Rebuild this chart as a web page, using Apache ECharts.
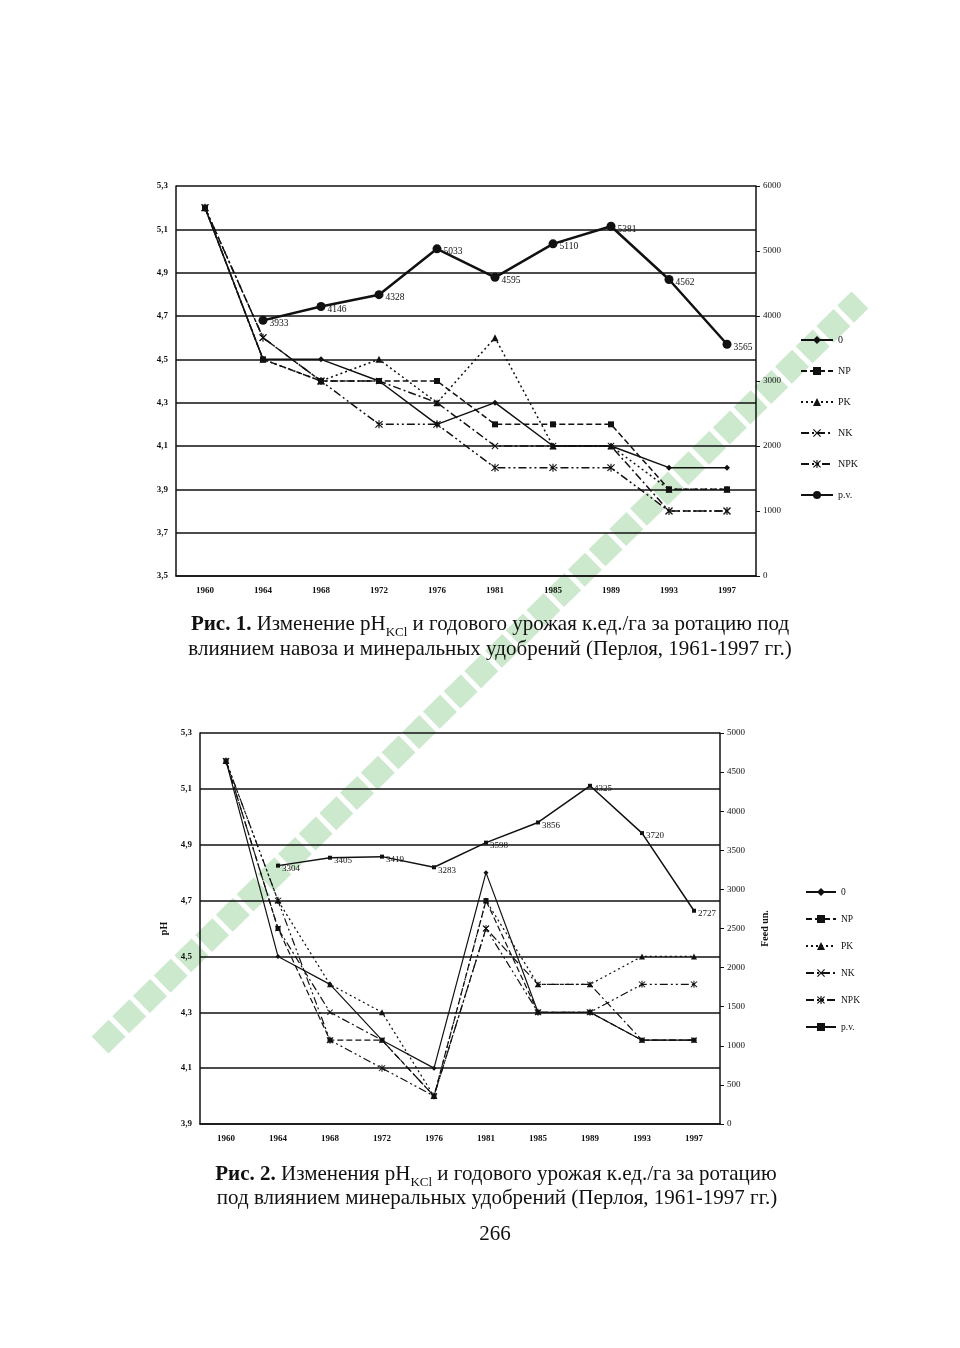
<!DOCTYPE html>
<html><head><meta charset="utf-8">
<script src="https://cdn.jsdelivr.net/npm/echarts@6/dist/echarts.min.js"></script>
<style>html,body{margin:0;padding:0;background:#fff}#c{width:960px;height:1348px}</style>
</head><body><div id="c"></div>
<script>
// ---- data ----
const years = ['1960','1964','1968','1972','1976','1981','1985','1989','1993','1997'];
const legendNames = ['0','NP','PK','NK','NPK','p.v.'];
// Figure 1 (pH KCl, yield feed units/ha)
const f1_0   = [5.2,4.5,4.5,4.4,4.2,4.3,4.1,4.1,4.0,4.0];
const f1_NP  = [5.2,4.5,4.4,4.4,4.4,4.2,4.2,4.2,3.9,3.9];
const f1_PK  = [5.2,4.5,4.4,4.5,4.3,4.6,4.1,4.1,3.9,3.9];
const f1_NK  = [5.2,4.6,4.4,4.4,4.3,4.1,4.1,4.1,3.8,3.8];
const f1_NPK = [5.2,4.6,4.4,4.2,4.2,4.0,4.0,4.0,3.8,3.8];
const f1_pv  = [null,3933,4146,4328,5033,4595,5110,5381,4562,3565];
// Figure 2
const f2_0   = [5.2,4.5,4.4,4.2,4.1,4.8,4.3,4.3,4.2,4.2];
const f2_NP  = [5.2,4.6,4.2,4.2,4.0,4.7,4.3,4.3,4.2,4.2];
const f2_PK  = [5.2,4.7,4.4,4.3,4.0,4.7,4.4,4.4,4.5,4.5];
const f2_NK  = [5.2,4.6,4.3,4.2,4.0,4.6,4.4,4.4,4.2,4.2];
const f2_NPK = [5.2,4.7,4.2,4.1,4.0,4.6,4.3,4.3,4.4,4.4];
const f2_pv  = [null,3304,3405,3419,3283,3598,3856,4325,3720,2727];
// axis ranges
const f1_phMin = 3.5, f1_phMax = 5.3, f1_yMax = 6000, f1_yStep = 1000;
const f2_phMin = 3.9, f2_phMax = 5.3, f2_yMax = 5000, f2_yStep = 500;

// ---- styles ----
const INK = '#111';
const SERIF = 'Liberation Serif';
const xSym = 'path://M1,0L5,4L9,0L10,1L6,5L10,9L9,10L5,6L1,10L0,9L4,5L0,1Z';
const astSym = 'path://M1,0L5,4L9,0L10,1L6,5L10,9L9,10L5,6L1,10L0,9L4,5L0,1Z M4.3,-0.5L5.7,-0.5L5.7,10.5L4.3,10.5Z';
const styles = {
  '0':   {type:'solid', sym:'diamond', size:6},
  'NP':  {type:[6,3], sym:'rect', size:6},
  'PK':  {type:[2,3], sym:'triangle', size:7},
  'NK':  {type:[8,3,2,3], sym:xSym, size:7},
  'NPK': {type:[8,3,2,3,2,3], sym:astSym, size:8},
  'p.v.':{type:'solid', sym:'circle', size:8}
};
function phSeries(name, data, gi, suffix, thin){
  const s = styles[name];
  return {name: name + suffix, type:'line', data: data, xAxisIndex: gi, yAxisIndex: gi*3,
    symbol: s.sym, symbolSize: thin ? s.size-1 : s.size, color: INK,
    lineStyle:{color:INK, width: thin?1.2:1.5, type: s.type}, itemStyle:{color:INK}, z:3};
}
function pvSeries(data, gi, suffix, thin){
  return {name:'p.v.'+suffix, type:'line', data:data, xAxisIndex:gi, yAxisIndex:gi*3+2,
    symbol: thin ? 'rect':'circle', symbolSize: thin?4:9, color:INK,
    lineStyle:{color:INK, width: thin?1.5:2.5}, itemStyle:{color:INK}, z:4,
    label:{show:true, position:'right', distance:2, offset:[0,3], fontSize: thin?9:9.5,
      fontFamily:SERIF, color:INK}};
}
function fmt(base){ return v => (base + v/10).toFixed(1).replace('.', ','); }

const grids = [
  {left:176, top:186, width:580, height:390},
  {left:200, top:733, width:520, height:391}
];
const xAxes = grids.map((g,i)=>({type:'category', gridIndex:i, data:years, boundaryGap:true,
  axisLine:{show:true, lineStyle:{color:INK, width:1.5}}, axisTick:{show:false},
  axisLabel:{fontFamily:SERIF, fontSize:9, fontWeight:'bold', color:INK, margin:10}}));
function yAxesFor(i, phMin, phMax, yMax, yStep, names){
  const steps = Math.round((phMax-phMin)*10);
  return [
    {type:'value', gridIndex:i, min:phMin, max:phMax, show:false},
    {type:'value', gridIndex:i, min:0, max:steps, interval:2, position:'left',
      name: names ? 'pH' : '', nameLocation:'middle', nameGap:22, nameRotate:90,
      nameTextStyle:{fontFamily:SERIF, fontSize:10, fontWeight:'bold', color:INK},
      axisLine:{show:true, lineStyle:{color:INK, width:1.5}}, axisTick:{show:false},
      axisLabel:{formatter: fmt(phMin), fontFamily:SERIF, fontSize:9, fontWeight:'bold', color:INK, margin:8},
      splitLine:{show:true, lineStyle:{color:INK, width:1.5}}},
    {type:'value', gridIndex:i, min:0, max:yMax, interval:yStep, position:'right',
      name: names ? 'Feed un.' : '', nameLocation:'middle', nameGap:40, nameRotate:90,
      nameTextStyle:{fontFamily:SERIF, fontSize:10, fontWeight:'bold', color:INK},
      axisLine:{show:true, lineStyle:{color:INK, width:1.5}},
      axisTick:{show:true, length:4, lineStyle:{color:INK}},
      axisLabel:{formatter: v => String(v), fontFamily:SERIF, fontSize:9, color:INK, margin:7},
      splitLine:{show:false}}
  ];
}
const yAxes = [].concat(
  yAxesFor(0, f1_phMin, f1_phMax, f1_yMax, f1_yStep, false),
  yAxesFor(1, f2_phMin, f2_phMax, f2_yMax, f2_yStep, true)
);
const S2 = '\u200b';
const series = [
  phSeries('0', f1_0, 0, '', false), phSeries('NP', f1_NP, 0, '', false),
  phSeries('PK', f1_PK, 0, '', false), phSeries('NK', f1_NK, 0, '', false),
  phSeries('NPK', f1_NPK, 0, '', false), pvSeries(f1_pv, 0, '', false),
  phSeries('0', f2_0, 1, S2, true), phSeries('NP', f2_NP, 1, S2, true),
  phSeries('PK', f2_PK, 1, S2, true), phSeries('NK', f2_NK, 1, S2, true),
  phSeries('NPK', f2_NPK, 1, S2, true), pvSeries(f2_pv, 1, S2, true)
];
const legends = [
  {orient:'vertical', left:795, top:330, itemGap:21, itemWidth:32, itemHeight:10,
   data: legendNames, selectedMode:false,
   textStyle:{fontFamily:SERIF, fontSize:10, color:INK}},
  {orient:'vertical', left:800, top:882, itemGap:17, itemWidth:30, itemHeight:10,
   data: legendNames.map(n=>n+S2), selectedMode:false,
   formatter: n => n.replace(S2,''),
   textStyle:{fontFamily:SERIF, fontSize:9.5, color:INK}}
];

const FS = 21;
const capRich = {
  n:{fontFamily:SERIF, fontSize:FS, color:INK, lineHeight:26, verticalAlign:'top'},
  b:{fontFamily:SERIF, fontSize:FS, fontWeight:'bold', color:INK, lineHeight:26, verticalAlign:'top'},
  s:{fontFamily:SERIF, fontSize:13, color:INK, lineHeight:26, verticalAlign:'bottom', padding:[0,0,1,0]}
};
function cap(x, y, text){
  return {type:'text', x:x, y:y, z:10, style:{text:text, rich:capRich, align:'center', textAlign:'center',
    verticalAlign:'middle', textVerticalAlign:'middle', fill:INK, font: FS+'px "Liberation Serif"'}};
}
const graphic = [
  {type:'line', z:-10, shape:{x1:100, y1:1045, x2:860, y2:300},
   style:{stroke:'#cde9cd', lineWidth:24, lineDash:[24,5]}},
  cap(490, 627, '{b|Рис. 1.}{n| Изменение pH}{s|KCl}{n| и годового урожая к.ед./га за ротацию под}'),
  cap(490, 652, '{n|влиянием навоза и минеральных удобрений (Перлоя, 1961-1997 гг.)}'),
  cap(496, 1177, '{b|Рис. 2.}{n| Изменения pH}{s|KCl}{n| и годового урожая к.ед./га за ротацию}'),
  cap(497, 1201, '{n|под влиянием минеральных удобрений (Перлоя, 1961-1997 гг.)}'),
  cap(495, 1237, '{n|266}')
];

const chart = echarts.init(document.getElementById('c'), null, {renderer:'canvas'});
chart.setOption({
  backgroundColor:'#fff', animation:false,
  grid: grids, xAxis: xAxes, yAxis: yAxes, series: series, legend: legends, graphic: graphic
});
</script></body></html>
